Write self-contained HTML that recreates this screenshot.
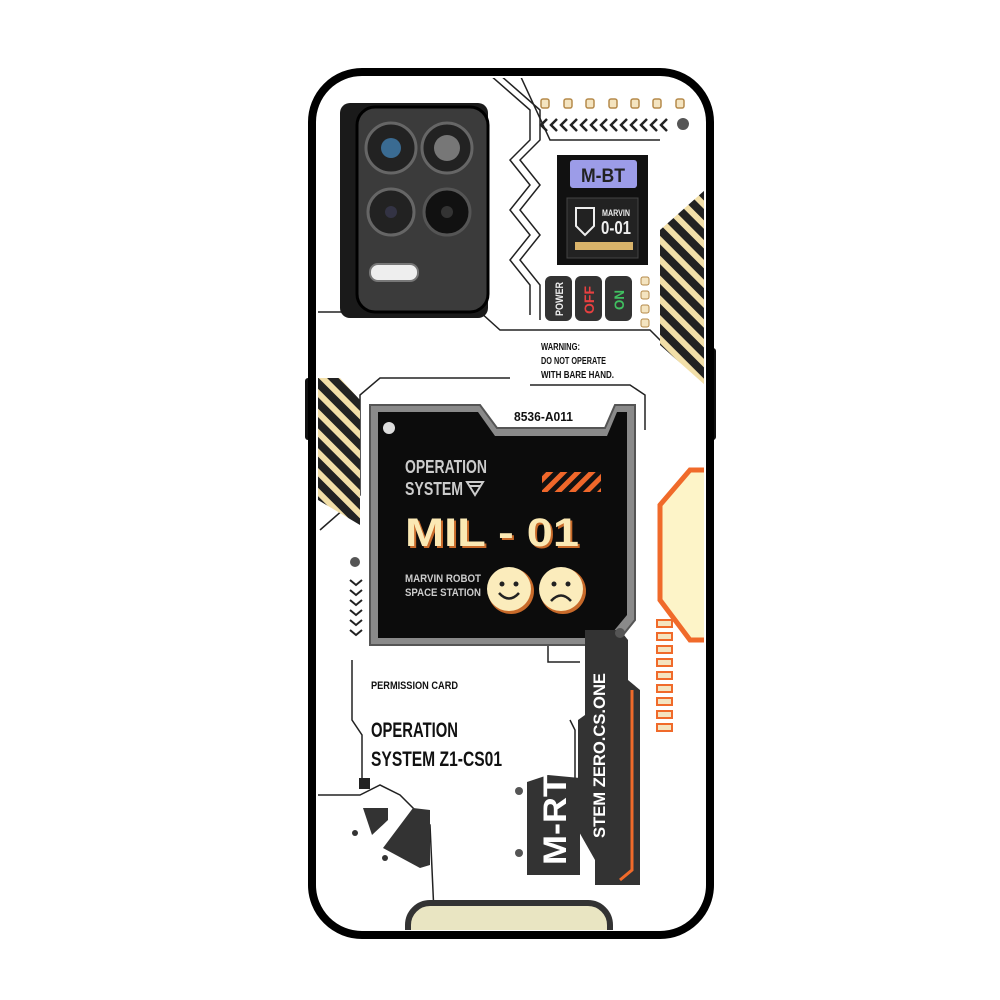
<!DOCTYPE html>
<html><head><meta charset="utf-8"><style>html,body{margin:0;padding:0;background:#fff}svg{display:block}text{font-family:"Liberation Sans",sans-serif;font-weight:bold}</style></head>
<body>
<svg width="1000" height="1000" viewBox="0 0 1000 1000" xmlns="http://www.w3.org/2000/svg">
<defs>
<pattern id="st" width="14" height="14" patternUnits="userSpaceOnUse" patternTransform="rotate(-45)"><rect width="14" height="14" fill="#222"/><rect width="6" height="14" fill="#f2dfa8"/></pattern>
<pattern id="os" width="10" height="10" patternUnits="userSpaceOnUse" patternTransform="rotate(45)"><rect width="10" height="10" fill="#111"/><rect width="5" height="10" fill="#f0672a"/></pattern>
<clipPath id="cc"><rect x="318" y="78" width="386" height="852" rx="44"/></clipPath>
</defs>
<rect x="305" y="378" width="12" height="62" rx="3" fill="#111"/>
<rect x="704" y="348" width="12" height="92" rx="3" fill="#111"/>
<rect x="312" y="72" width="398" height="863" rx="50" fill="#fff" stroke="#000" stroke-width="8"/>
<g clip-path="url(#cc)">
<g fill="none" stroke="#222" stroke-width="1.5">
<path d="M318 312 L480 312 L500 330 L650 330 L665 345 L700 345"/>
<path d="M490 75 L530 110 L530 140 L510 160 L530 185 L510 210 L530 235 L510 260 L530 285 L530 315"/>
<path d="M500 75 L540 110 L540 140 L520 160 L540 185 L520 210 L540 235 L520 260 L540 285 L540 320"/>
<path d="M520 75 L550 140 L660 140"/>
<path d="M320 530 L360 495 L360 395 L380 378 L510 378"/>
<path d="M530 385 L630 385 L645 395 L645 430"/>
<path d="M352 660 L352 720 L362 735 L362 780"/>
<path d="M318 795 L360 795 L380 785 L400 795 L430 825 L435 935"/>
<path d="M548 640 L548 662 L580 662"/>
<path d="M570 720 L575 730 L575 860"/>
</g>
<rect x="340" y="103" width="148" height="215" rx="10" fill="#1a1a1a"/>
<rect x="357" y="107" width="131" height="205" rx="18" fill="#3b3b3b" stroke="#000" stroke-width="3"/>
<circle cx="391" cy="148" r="25" fill="#222" stroke="#666" stroke-width="3"/><circle cx="391" cy="148" r="10" fill="#3a6b92"/>
<circle cx="447" cy="148" r="25" fill="#222" stroke="#666" stroke-width="3"/><circle cx="447" cy="148" r="13" fill="#777"/>
<circle cx="391" cy="212" r="23" fill="#222" stroke="#666" stroke-width="3"/><circle cx="391" cy="212" r="6" fill="#334"/>
<circle cx="447" cy="212" r="23" fill="#111" stroke="#555" stroke-width="3"/><circle cx="447" cy="212" r="6" fill="#333"/>
<rect x="370" y="264" width="48" height="17" rx="8" fill="#eee" stroke="#777" stroke-width="2"/>
<g fill="#f4e4c0" stroke="#b58a4a" stroke-width="1.5">
<rect x="541" y="99" width="8" height="9" rx="2"/><rect x="564" y="99" width="8" height="9" rx="2"/><rect x="586" y="99" width="8" height="9" rx="2"/><rect x="609" y="99" width="8" height="9" rx="2"/><rect x="631" y="99" width="8" height="9" rx="2"/><rect x="653" y="99" width="8" height="9" rx="2"/><rect x="676" y="99" width="8" height="9" rx="2"/>
</g>
<g fill="none" stroke="#222" stroke-width="2.5">
<path d="M547 119 l-6 6 l6 6 M557 119 l-6 6 l6 6 M567 119 l-6 6 l6 6 M577 119 l-6 6 l6 6 M587 119 l-6 6 l6 6 M597 119 l-6 6 l6 6 M607 119 l-6 6 l6 6 M617 119 l-6 6 l6 6 M627 119 l-6 6 l6 6 M637 119 l-6 6 l6 6 M647 119 l-6 6 l6 6 M657 119 l-6 6 l6 6 M667 119 l-6 6 l6 6"/>
</g>
<circle cx="683" cy="124" r="6" fill="#555"/>
<rect x="557" y="155" width="91" height="110" fill="#111"/>
<rect x="570" y="160" width="67" height="28" rx="3" fill="#9c9ce8"/>
<text x="603" y="182" font-size="19" fill="#222" text-anchor="middle" textLength="44" lengthAdjust="spacingAndGlyphs">M-BT</text>
<rect x="567" y="198" width="71" height="60" fill="#222" stroke="#444"/>
<path d="M576 208 L594 208 L594 226 L585 235 L576 226 Z" fill="none" stroke="#eee" stroke-width="2"/>
<text x="602" y="216" font-size="9" fill="#eee" textLength="28" lengthAdjust="spacingAndGlyphs">MARVIN</text>
<text x="601" y="234" font-size="18" fill="#eee" textLength="30" lengthAdjust="spacingAndGlyphs">0-01</text>
<rect x="575" y="242" width="58" height="8" fill="#d9b36a"/>
<rect x="545" y="276" width="27" height="45" rx="6" fill="#333"/><text transform="translate(563 316) rotate(-90)" font-size="11" fill="#eee" textLength="34" lengthAdjust="spacingAndGlyphs">POWER</text>
<rect x="575" y="276" width="27" height="45" rx="6" fill="#333"/><text transform="translate(594 314) rotate(-90)" font-size="14" fill="#e84040" textLength="28" lengthAdjust="spacingAndGlyphs">OFF</text>
<rect x="605" y="276" width="27" height="45" rx="6" fill="#333"/><text transform="translate(624 310) rotate(-90)" font-size="14" fill="#40c060" textLength="20" lengthAdjust="spacingAndGlyphs">ON</text>
<g fill="#f4e4c0" stroke="#b58a4a"><rect x="641" y="277" width="8" height="8" rx="2"/><rect x="641" y="291" width="8" height="8" rx="2"/><rect x="641" y="305" width="8" height="8" rx="2"/><rect x="641" y="319" width="8" height="8" rx="2"/></g>
<text x="541" y="350" font-size="10" fill="#111" textLength="39" lengthAdjust="spacingAndGlyphs">WARNING:</text>
<text x="541" y="364" font-size="10" fill="#111" textLength="65" lengthAdjust="spacingAndGlyphs">DO NOT OPERATE</text>
<text x="541" y="378" font-size="10" fill="#111" textLength="73" lengthAdjust="spacingAndGlyphs">WITH BARE HAND.</text>
<polygon points="660,230 705,190 705,385 660,345" fill="url(#st)"/>
<polygon points="318,378 340,378 360,400 360,525 318,500" fill="url(#st)"/>
<polygon points="660,505 690,470 712,470 712,640 690,640 660,600" fill="#fdf4c8" stroke="#f06a2a" stroke-width="5"/>
<g fill="#f4e4c0" stroke="#f06a2a" stroke-width="2">
<rect x="657" y="620" width="15" height="7"/><rect x="657" y="633" width="15" height="7"/><rect x="657" y="646" width="15" height="7"/><rect x="657" y="659" width="15" height="7"/><rect x="657" y="672" width="15" height="7"/><rect x="657" y="685" width="15" height="7"/><rect x="657" y="698" width="15" height="7"/><rect x="657" y="711" width="15" height="7"/><rect x="657" y="724" width="15" height="7"/></g>
<polygon points="370,405 480,405 497,428 605,428 615,405 635,405 635,620 615,645 370,645" fill="#8a8a8a" stroke="#555" stroke-width="2"/>
<polygon points="378,412 478,412 495,436 607,436 617,412 627,412 627,615 608,638 378,638" fill="#0c0c0c"/>
<text x="514" y="421" font-size="13" fill="#111" textLength="59" lengthAdjust="spacingAndGlyphs">8536-A011</text>
<circle cx="389" cy="428" r="6" fill="#ddd"/>
<text x="405" y="473" font-size="18" fill="#ccc" textLength="82" lengthAdjust="spacingAndGlyphs">OPERATION</text>
<text x="405" y="495" font-size="18" fill="#ccc" textLength="58" lengthAdjust="spacingAndGlyphs">SYSTEM</text>
<path d="M467 482 L483 482 L475 495 Z M469 486 L481 486" fill="none" stroke="#ccc" stroke-width="2"/>
<rect x="542" y="472" width="59" height="20" fill="url(#os)"/>
<text x="407" y="548" font-size="40" fill="#c86a2a" textLength="174" lengthAdjust="spacingAndGlyphs">MIL - 01</text>
<text x="405" y="546" font-size="40" fill="#fbe9b4" textLength="174" lengthAdjust="spacingAndGlyphs">MIL - 01</text>
<text x="405" y="582" font-size="11" fill="#ccc" textLength="76" lengthAdjust="spacingAndGlyphs">MARVIN ROBOT</text>
<text x="405" y="596" font-size="11" fill="#ccc" textLength="76" lengthAdjust="spacingAndGlyphs">SPACE STATION</text>
<circle cx="511" cy="591" r="23" fill="#c86a2a"/><circle cx="509" cy="589" r="22" fill="#fbecbc"/>
<circle cx="502" cy="584" r="2.5" fill="#222"/><circle cx="516" cy="584" r="2.5" fill="#222"/><path d="M499 593 Q509 604 519 593" fill="none" stroke="#222" stroke-width="2.5"/>
<circle cx="563" cy="591" r="23" fill="#c86a2a"/><circle cx="561" cy="589" r="22" fill="#fbecbc"/>
<circle cx="554" cy="584" r="2.5" fill="#222"/><circle cx="568" cy="584" r="2.5" fill="#222"/><path d="M551 601 Q561 590 571 601" fill="none" stroke="#222" stroke-width="2.5"/>
<circle cx="355" cy="562" r="5" fill="#555"/>
<g fill="none" stroke="#222" stroke-width="2"><path d="M350 580 l6 5 l6 -5"/><path d="M350 590 l6 5 l6 -5"/><path d="M350 600 l6 5 l6 -5"/><path d="M350 610 l6 5 l6 -5"/><path d="M350 620 l6 5 l6 -5"/><path d="M350 630 l6 5 l6 -5"/></g>
<text x="371" y="689" font-size="11" fill="#111" textLength="87" lengthAdjust="spacingAndGlyphs">PERMISSION CARD</text>
<text x="371" y="737" font-size="21" fill="#111" textLength="87" lengthAdjust="spacingAndGlyphs">OPERATION</text>
<text x="371" y="766" font-size="21" fill="#111" textLength="131" lengthAdjust="spacingAndGlyphs">SYSTEM Z1-CS01</text>
<rect x="359" y="778" width="11" height="11" fill="#222"/>
<polygon points="363,808 388,808 388,820 372,835" fill="#333"/>
<polygon points="383,848 413,808 430,810 430,865 420,868" fill="#333"/>
<circle cx="355" cy="833" r="3" fill="#333"/><circle cx="385" cy="858" r="3" fill="#333"/>
<polygon points="585,630 620,630 628,640 628,680 640,690 640,885 595,885 595,860 578,830 578,720 585,715" fill="#333"/>
<path d="M632 690 L632 870 L620 880" fill="none" stroke="#f06a2a" stroke-width="3"/>
<text transform="translate(605 838) rotate(-90)" font-size="17" fill="#fff" font-weight="normal" textLength="165" lengthAdjust="spacingAndGlyphs">STEM ZERO.CS.ONE</text>
<circle cx="620" cy="633" r="5" fill="#555"/>
<polygon points="527,782 548,775 580,778 580,875 527,875" fill="#333"/>
<text transform="translate(566 865) rotate(-90)" font-size="32" fill="#fff" textLength="90" lengthAdjust="spacingAndGlyphs">M-RT</text>
<circle cx="519" cy="791" r="4" fill="#555"/><circle cx="519" cy="853" r="4" fill="#555"/>
<rect x="408" y="903" width="202" height="60" rx="22" fill="#e9e5c2" stroke="#333" stroke-width="6"/>
</g>
</svg>
</body></html>
